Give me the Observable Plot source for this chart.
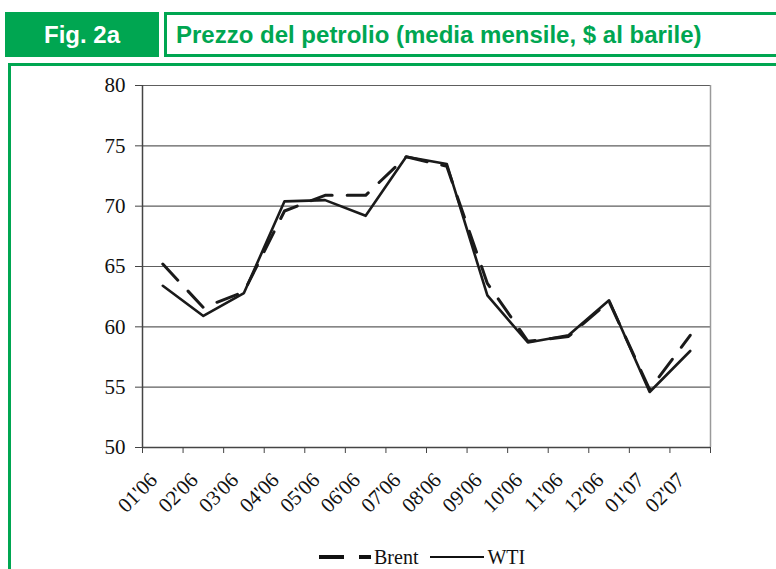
<!DOCTYPE html>
<html>
<head>
<meta charset="utf-8">
<script src="https://cdn.jsdelivr.net/npm/d3@7"></script>
<script src="https://cdn.jsdelivr.net/npm/@observablehq/plot@0.6"></script>
<style>
  body { margin:0; background:#fff; width:776px; height:569px; position:relative; overflow:hidden; }
  .hdr { position:absolute; top:12px; height:45px; box-sizing:border-box; font:bold 24px "Liberation Sans", Arial, sans-serif; display:flex; align-items:center; }
  #fig { left:5px; width:154px; background:#00a651; color:#fff; justify-content:center; }
  #title { left:164px; width:640px; border:3px solid #00a651; color:#00a651; padding-left:9px; }
  #panel { position:absolute; left:8px; top:63px; width:800px; height:600px; border:3px solid #00a651; box-sizing:border-box; }
  #chart { position:absolute; left:0; top:0; }
  #legend { position:absolute; left:319px; top:546px; height:22px; display:flex; align-items:center; font:20px "Liberation Serif", "Times New Roman", serif; color:#111; }
  #legend svg { margin-right:3px; }
  #legend span { margin-right:12px; }
</style>
</head>
<body>
<div id="fig" class="hdr">Fig. 2a</div>
<div id="title" class="hdr">Prezzo del petrolio (media mensile, $ al barile)</div>
<div id="panel"></div>
<div id="chart"></div>
<div id="legend">
  <svg width="52" height="10"><line x1="0" y1="5" x2="52" y2="5" stroke="#111" stroke-width="4" stroke-dasharray="25,15"></line></svg><span>Brent</span>
  <svg width="54" height="10"><line x1="0" y1="5" x2="54" y2="5" stroke="#111" stroke-width="2"></line></svg><span>WTI</span>
</div>
<script>
const months = ["01'06","02'06","03'06","04'06","05'06","06'06","07'06","08'06","09'06","10'06","11'06","12'06","01'07","02'07"];
const brent = [65.2, 61.6, 62.9, 69.6, 70.9, 70.9, 74.1, 73.3, 63.6, 58.8, 59.2, 62.1, 54.8, 59.3];
const wti   = [63.4, 60.9, 62.8, 70.4, 70.5, 69.2, 74.1, 73.5, 62.6, 58.7, 59.3, 62.2, 54.6, 58.0];
const yTicks = [50, 55, 60, 65, 70, 75, 80];

const brentData = months.map((m, i) => ({i, m, v: brent[i]}));
const wtiData = months.map((m, i) => ({i, m, v: wti[i]}));
const boundaries = d3.range(months.length + 1);
const centers = months.map((m, i) => i + 0.5);

const chart = Plot.plot({
  width: 776,
  height: 530,
  marginLeft: 142,
  marginRight: 66,
  marginTop: 85,
  marginBottom: 83,
  style: {background: "transparent", fontFamily: "'Liberation Serif', 'Times New Roman', serif", color: "#111"},
  x: {type: "linear", domain: [0, months.length]},
  y: {domain: [50, 80]},
  marks: [
    Plot.ruleY(yTicks, {stroke: "#5e5e5e", strokeWidth: 1.2}),
    Plot.ruleX([months.length], {stroke: "#9a9a9a", strokeWidth: 1.5}),
    Plot.ruleX([0], {stroke: "#444", strokeWidth: 1.5}),
    Plot.ruleY([50], {stroke: "#444", strokeWidth: 1.5}),
    Plot.axisY(yTicks, {tickSize: 7, tickPadding: 10, fontSize: 21, label: null, stroke: "#444"}),
    Plot.axisX(boundaries, {tickSize: 6, tickFormat: () => "", label: null, stroke: "#444"}),
    Plot.axisX(centers, {tickSize: 0, tickPadding: 0, tickRotate: -45, dx: -9, dy: 29, fontSize: 21,
      tickFormat: d => months[Math.floor(d)], label: null}),
    Plot.line(brentData, {x: d => d.i + 0.5, y: "v", stroke: "#1a1a1a", strokeWidth: 3, strokeDasharray: "22,15"}),
    Plot.line(wtiData, {x: d => d.i + 0.5, y: "v", stroke: "#1a1a1a", strokeWidth: 2.6})
  ]
});
document.getElementById("chart").appendChild(chart);
</script>
</body>
</html>
